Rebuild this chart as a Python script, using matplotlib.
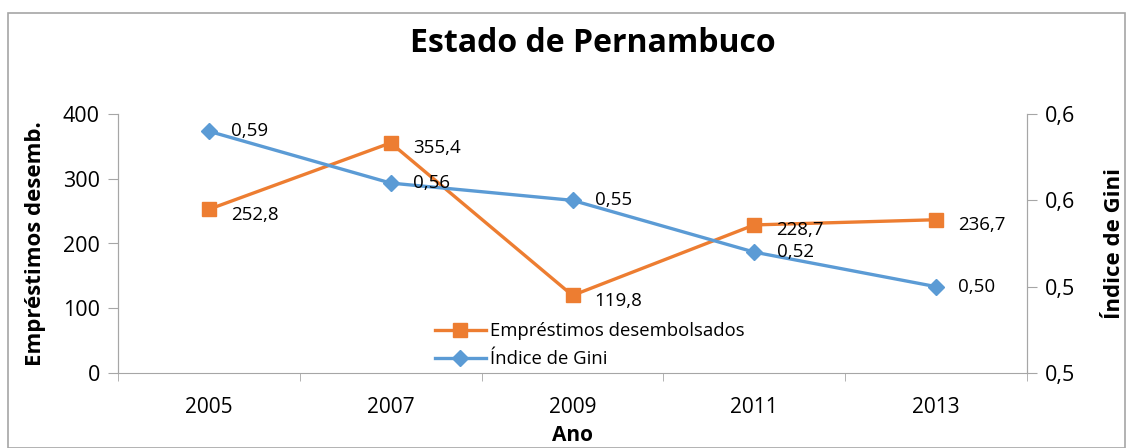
import numpy as np
import matplotlib.pyplot as plt
from matplotlib.patches import Rectangle

plt.rcParams['font.family'] = ['Open Sans', 'DejaVu Sans']

anos = ['2005', '2007', '2009', '2011', '2013']
emprestimos = [252.8, 355.4, 119.8, 228.7, 236.7]
gini = [0.59, 0.56, 0.55, 0.52, 0.50]
rotulos_emp = ['252,8', '355,4', '119,8', '228,7', '236,7']
rotulos_gini = ['0,59', '0,56', '0,55', '0,52', '0,50']
ticks_gini = [0.45, 0.50, 0.55, 0.60]
ticks_gini_txt = ['0,5', '0,5', '0,6', '0,6']

laranja = '#ED7D31'
azul = '#5B9BD5'
cinza = '#A6A6A6'

W, H = 1131, 448
fig = plt.figure(figsize=(W / 100, H / 100), dpi=100)
# borda do gráfico
fig.patches.append(Rectangle((8 / W, 0), (1125 - 8) / W, (H - 13) / H,
                             transform=fig.transFigure, fill=False,
                             edgecolor=cinza, linewidth=1.2))

ax = fig.add_axes([118 / W, (H - 373) / H, (1027 - 118) / W, (373 - 114) / H])
ax2 = ax.twinx()

x = np.arange(len(anos))
l1, = ax.plot(x, emprestimos, color=laranja, lw=2.4, marker='s', ms=10,
              label='Empréstimos desembolsados', zorder=3)
l2, = ax2.plot(x, gini, color=azul, lw=2.4, marker='D', ms=8,
               label='Índice de Gini', zorder=3)

for xi, yi, t in zip(x, emprestimos, rotulos_emp):
    ax.annotate(t, (xi, yi), xytext=(16, -4), textcoords='offset points',
                fontsize=13.5, va='center', ha='left')
for xi, yi, t in zip(x, gini, rotulos_gini):
    ax2.annotate(t, (xi, yi), xytext=(16, 0), textcoords='offset points',
                 fontsize=13.5, va='center', ha='left')

ax.set_xlim(-0.5, len(anos) - 0.5)
ax.set_ylim(0, 400)
ax.set_yticks([0, 100, 200, 300, 400])
ax2.set_ylim(0.45, 0.60)
ax2.set_yticks(ticks_gini)
ax2.set_yticklabels(ticks_gini_txt)

ax.set_xticks(x)
ax.set_xticklabels(anos)
ax.set_xticks(np.arange(-0.5, len(anos), 1), minor=True)
ax.tick_params(axis='x', which='major', length=0, pad=17, labelsize=15)
ax.tick_params(axis='x', which='minor', length=6, color=cinza, direction='out')
ax.tick_params(axis='y', length=7, color=cinza, labelsize=15.5, pad=6)
ax2.tick_params(axis='y', length=7, color=cinza, labelsize=15.5, pad=6)

for a in (ax, ax2):
    a.spines['top'].set_visible(False)
    for s in ('left', 'right', 'bottom'):
        a.spines[s].set_color(cinza)
ax2.spines['bottom'].set_visible(False)

ax.set_xlabel('Ano', fontsize=15, fontweight='bold', labelpad=5)
ax.set_ylabel('Empréstimos desemb.', fontsize=16, fontweight='bold', labelpad=12)
ax2.set_ylabel('Índice de Gini', fontsize=16, fontweight='bold', labelpad=21)
fig.text(0.524, 1 - 43 / H, 'Estado de Pernambuco', fontsize=23,
         fontweight='bold', ha='center', va='center')

ax.legend(handles=[l1, l2], loc='lower left', bbox_to_anchor=(0.336, -0.025),
          frameon=False, fontsize=13.3, handlelength=2.8, handletextpad=0.2,
          labelspacing=0.55, borderaxespad=0.2)

fig.savefig('out.png', dpi=100)
